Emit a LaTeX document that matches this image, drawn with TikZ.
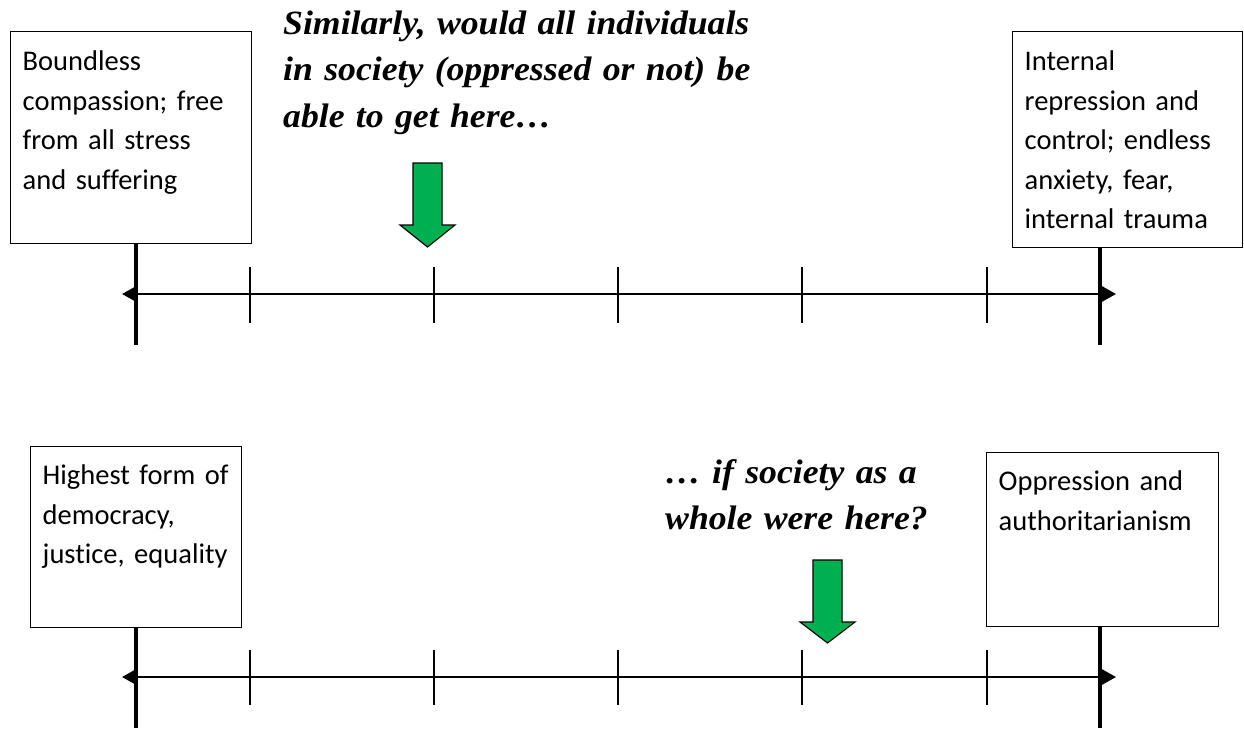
\documentclass[tikz,border=0pt]{standalone}
\usepackage{fontspec}
\setmainfont{Carlito}[Ligatures=NoCommon]
\newfontfamily\tnr{Liberation Serif}[FakeStretch=1.05]
\usetikzlibrary{arrows.meta}
\definecolor{arrowgreen}{RGB}{0,176,80}
\tikzset{
  textbox/.style={draw, line width=1.4pt, anchor=north west, inner xsep=12pt, inner ysep=0pt,
    align=left, font=\fontsize{28.5}{39.5}\selectfont},
  question/.style={anchor=base west, inner sep=0pt, align=left, text width=560pt,
    font=\tnr\bfseries\itshape\fontsize{34}{46.5}\selectfont},
  axis/.style={line width=2.5pt, {Triangle[length=14pt,width=15pt]}-{Triangle[length=14pt,width=15pt]}},
  endline/.style={line width=3.5pt},
  tickline/.style={line width=1.4pt},
  greenarrow/.style={fill=arrowgreen, draw=black, line width=1.1pt, line join=miter}
}
\begin{document}
\begin{tikzpicture}[x=1pt, y=-1pt]
\useasboundingbox (0,0) rectangle (1244,728);

% ---------- top panel ----------
\node[textbox, text width=217pt, text height=39pt, text depth=173pt] (lbox1) at (10,31)
  {Boundless\\compassion; free\\from all stress\\and suffering};
\node[textbox, text width=206pt, text height=39pt, text depth=177pt] (rbox1) at (1012,31)
  {Internal\\repression and\\control; endless\\anxiety, fear,\\internal trauma};

\node[question] (q1) at (283,34)
  {Similarly, would all individuals\\in society (oppressed or not) be\\able to get here…};

\coordinate (lend1) at (136,345);
\coordinate (rend1) at (1100,345);
\draw[endline] (lend1 |- lbox1.south) -- (lend1);
\draw[endline] (rend1 |- rbox1.south) -- (rend1);

\coordinate (a1l) at (122,294);
\coordinate (a1r) at (1116,294);
\draw[axis] (a1l) -- (a1r);
\foreach \x in {250,434,618,802,987}
  \draw[tickline] (\x,267) -- (\x,323);

\draw[greenarrow] (413,163) -- (442,163) -- (442,225) -- (455,225) -- (427.5,247)
  -- (400,225) -- (413,225) -- cycle;

% ---------- bottom panel ----------
\node[textbox, text width=187pt, text height=38pt, text depth=143pt] (lbox2) at (30,446)
  {Highest form of\\democracy,\\justice, equality};
\node[textbox, text width=208pt, text height=38pt, text depth=136pt] (rbox2) at (986,452)
  {Oppression and\\authoritarianism};

\node[question] (q2) at (665,483)
  {… if society as a\\whole were here?};

\coordinate (lend2) at (136,728);
\coordinate (rend2) at (1100,728);
\draw[endline] (lend2 |- lbox2.south) -- (lend2);
\draw[endline] (rend2 |- rbox2.south) -- (rend2);

\coordinate (a2l) at (122,677);
\coordinate (a2r) at (1116,677);
\draw[axis] (a2l) -- (a2r);
\foreach \x in {250,434,618,802,987}
  \draw[tickline] (\x,650) -- (\x,705);

\draw[greenarrow] (813,560) -- (842,560) -- (842,622) -- (855,622) -- (827.5,643)
  -- (800,622) -- (813,622) -- cycle;
\end{tikzpicture}
\end{document}
